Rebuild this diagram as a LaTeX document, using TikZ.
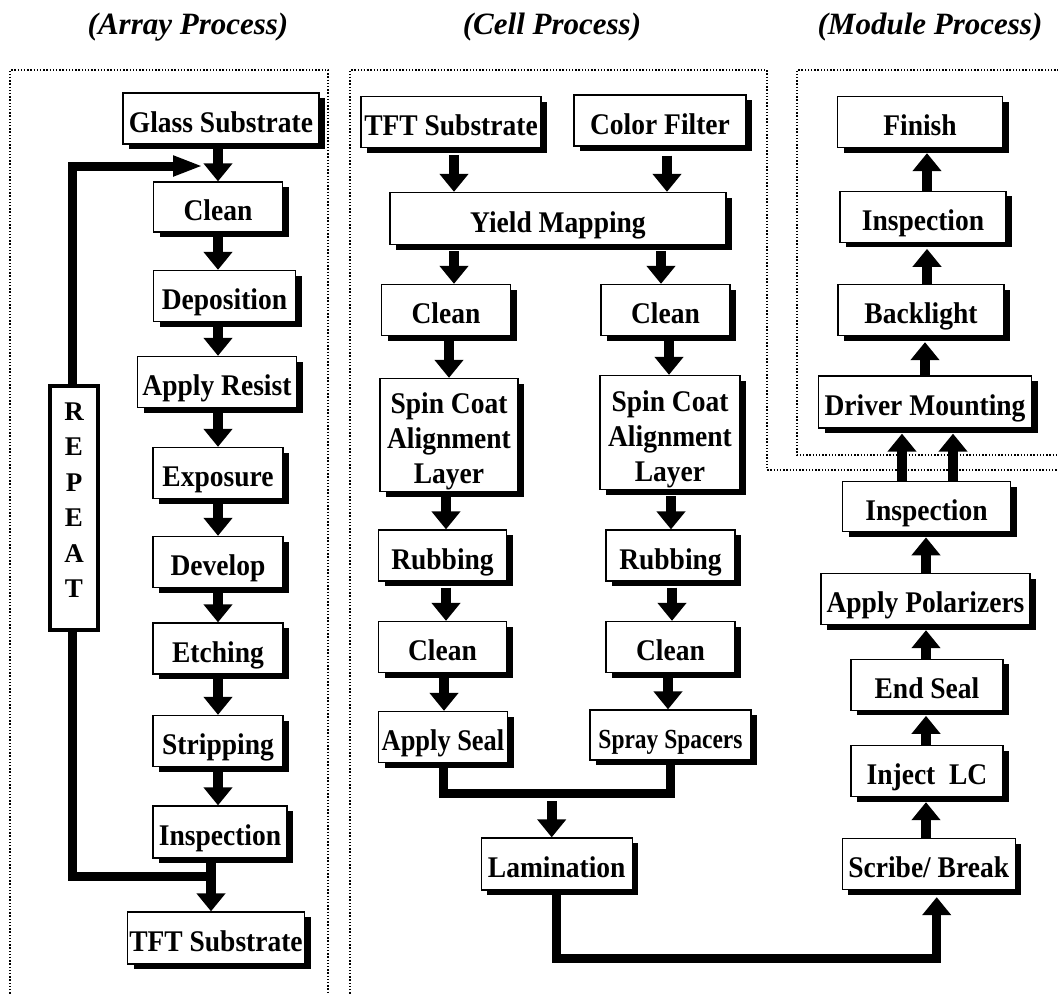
\documentclass[tikz,border=0pt]{standalone}
\usepackage{fontspec}
\setmainfont{Liberation Serif}
\newfontfamily\boxfam{Liberation Serif}[FakeStretch=0.917]
\usetikzlibrary{arrows.meta,shadows,calc}
\tikzset{
  box/.style={draw, line width=1.3pt, fill=white, inner sep=0pt, align=center,
    font=\boxfam\bfseries\fontsize{30}{35}\selectfont, text height=27.6pt, text depth=0pt,
    drop shadow={shadow xshift=6pt, shadow yshift=-5pt, fill=black, opacity=1}},
  title/.style={font=\bfseries\itshape\fontsize{31}{36}\selectfont, inner sep=0pt},
  darr/.style={line width=10pt, -{Triangle[width=28pt,length=18pt]}},
  conn/.style={line width=9pt, line join=miter},
  dotline/.style={line width=1.4pt, dash pattern=on 1.4pt off 1.8pt},
  repeatbox/.style={draw, line width=4pt, fill=white, inner sep=0pt, align=center,
    font=\bfseries\fontsize{27}{35.5}\selectfont}
}
\newcommand\DnArr[4]{\draw[darr] ($(#1,0 |- #2.south)+(0,#4)$) -- (#1,0 |- #3.north);}
\newcommand\UpArr[4]{\draw[darr] (#1,0 |- #2.north) -- ($(#1,0 |- #3.south)+(0,#4)$);}
\begin{document}
\begin{tikzpicture}[x=1pt,y=-1pt]
\useasboundingbox (0,0) rectangle (1058,994);
% dotted frames
\draw[dotline] (10,1000) -- (10,70) -- (328,70) -- (328,1000);
\draw[dotline] (350,1000) -- (350,70) -- (767,70) -- (767,470) -- (1062,470);
\draw[dotline] (1062,70) -- (797,70) -- (797,455) -- (1062,455);
% titles
\node[title] (t1) at (188,27) {(Array Process)};
\node[title] (t2) at (552,27) {(Cell Process)};
\node[title] (t3) at (930,27) {(Module Process)};
% array process
\node[box, minimum width=196pt, minimum height=51pt] (glass) at (221,118.5) {Glass Substrate};
\node[box, minimum width=129pt, minimum height=50pt] (clean1) at (218,207) {Clean};
\node[box, minimum width=142pt, minimum height=51pt] (depo) at (224.5,296) {Deposition};
\node[box, minimum width=159pt, minimum height=51pt] (resist) at (217,382) {Apply Resist};
\node[box, minimum width=130pt, minimum height=51pt] (expo) at (218,473) {Exposure};
\node[box, minimum width=130pt, minimum height=51pt] (devel) at (218,562) {Develop};
\node[box, minimum width=130pt, minimum height=51pt] (etch) at (218,648.5) {Etching};
\node[box, minimum width=130pt, minimum height=51pt] (strip) at (218,741) {Stripping};
\node[box, minimum width=134pt, minimum height=52pt] (insp1) at (220,832) {Inspection};
\node[box, minimum width=177pt, minimum height=52pt] (tfta) at (216,938) {TFT Substrate};
% cell process
\node[box, minimum width=180pt, minimum height=51pt] (tftc) at (451,122) {TFT Substrate};
\node[box, minimum width=172pt, minimum height=51pt] (cf) at (660,120.5) {Color Filter};
\node[box, minimum width=336pt, minimum height=52pt] (yield) at (558,218.5) {Yield Mapping};
\node[box, minimum width=129pt, minimum height=51pt] (cleanL) at (446,310) {Clean};
\node[box, minimum width=129pt, minimum height=51pt] (cleanR) at (665.5,310) {Clean};
\node[box, minimum width=138pt, minimum height=113pt, text height=97.6pt, text depth=0pt] (spinL) at (449,435) {Spin Coat\\Alignment\\Layer};
\node[box, minimum width=140pt, minimum height=114pt, text height=97.6pt, text depth=0pt] (spinR) at (670,432.5) {Spin Coat\\Alignment\\Layer};
\node[box, minimum width=128pt, minimum height=51pt] (rubL) at (442.5,555.5) {Rubbing};
\node[box, minimum width=129pt, minimum height=51pt] (rubR) at (670.5,555.5) {Rubbing};
\node[box, minimum width=128pt, minimum height=51pt] (cleanL2) at (442.5,647) {Clean};
\node[box, minimum width=129pt, minimum height=51pt] (cleanR2) at (670.5,647) {Clean};
\node[box, minimum width=129pt, minimum height=51pt] (seal) at (443,737) {\scalebox{0.96}[1]{Apply Seal}};
\node[box, minimum width=161pt, minimum height=50pt, text height=26pt] (spray) at (670.5,735) {\scalebox{0.853}[0.92]{Spray Spacers}};
\node[box, minimum width=151pt, minimum height=52pt] (lam) at (556.7,864) {Lamination};
% module process
\node[box, minimum width=165pt, minimum height=51pt] (finish) at (920,122) {Finish};
\node[box, minimum width=166pt, minimum height=51pt] (insp3) at (923,216.7) {Inspection};
\node[box, minimum width=166pt, minimum height=51pt] (back) at (921,310) {Backlight};
\node[box, minimum width=213pt, minimum height=52pt] (driver) at (925,402) {Driver Mounting};
\node[box, minimum width=168pt, minimum height=50pt] (insp2) at (926.5,506.7) {Inspection};
\node[box, minimum width=209pt, minimum height=51pt] (pol) at (925.5,599) {Apply Polarizers};
\node[box, minimum width=152pt, minimum height=51pt] (endseal) at (927,684.7) {End Seal};
\node[box, minimum width=152pt, minimum height=51pt] (inject) at (927,771) {Inject\ \ LC};
\node[box, minimum width=173pt, minimum height=51pt] (scribe) at (928.7,864) {Scribe/ Break};
% array arrows
\DnArr{218}{glass}{clean1}{0}
\DnArr{218}{clean1}{depo}{0}
\DnArr{218}{depo}{resist}{0}
\DnArr{218}{resist}{expo}{0}
\DnArr{218}{expo}{devel}{0}
\DnArr{218}{devel}{etch}{0}
\DnArr{218}{etch}{strip}{0}
\DnArr{218}{strip}{insp1}{0}
\DnArr{211}{insp1}{tfta}{0}
% repeat loop
\coordinate (loopstart) at (211,876);
\coordinate (loopend) at (203,166);
\draw[conn, -{Triangle[width=19pt,length=30pt]}] (loopstart) -- (72,876) -- (72,166) -- (loopend);
\node[repeatbox, minimum width=48pt, minimum height=244pt, text depth=16pt] (repeat) at (74,508) {R\\E\\P\\E\\A\\T};
% cell arrows
\DnArr{454}{tftc}{yield}{7}
\DnArr{667}{cf}{yield}{9}
\DnArr{454}{yield}{cleanL}{6}
\DnArr{661}{yield}{cleanR}{6}
\DnArr{449}{cleanL}{spinL}{5}
\DnArr{669}{cleanR}{spinR}{5}
\DnArr{446}{spinL}{rubL}{4}
\DnArr{671}{spinR}{rubR}{6}
\DnArr{446}{rubL}{cleanL2}{6}
\DnArr{672}{rubR}{cleanR2}{6}
\DnArr{444}{cleanL2}{seal}{5}
\DnArr{668}{cleanR2}{spray}{5}
\draw[conn] (seal.south) -- ++(0,30.5) -| (spray.south);
\coordinate (mj) at (551.7,801);
\draw[darr] (mj) -- (mj |- lam.north);
\draw[conn, -{Triangle[width=28pt,length=18pt]}] (lam.south) -- ++(0,68) -| ($(scribe.south)+(8,7)$);
% module arrows
\UpArr{927}{insp3}{finish}{5}
\UpArr{927}{back}{insp3}{6}
\UpArr{925}{driver}{back}{6}
\UpArr{902}{insp2}{driver}{5}
\UpArr{953}{insp2}{driver}{5}
\UpArr{926}{pol}{insp2}{5}
\UpArr{926}{endseal}{pol}{5}
\UpArr{926}{inject}{endseal}{5}
\UpArr{926}{scribe}{inject}{5}
\end{tikzpicture}
\end{document}
